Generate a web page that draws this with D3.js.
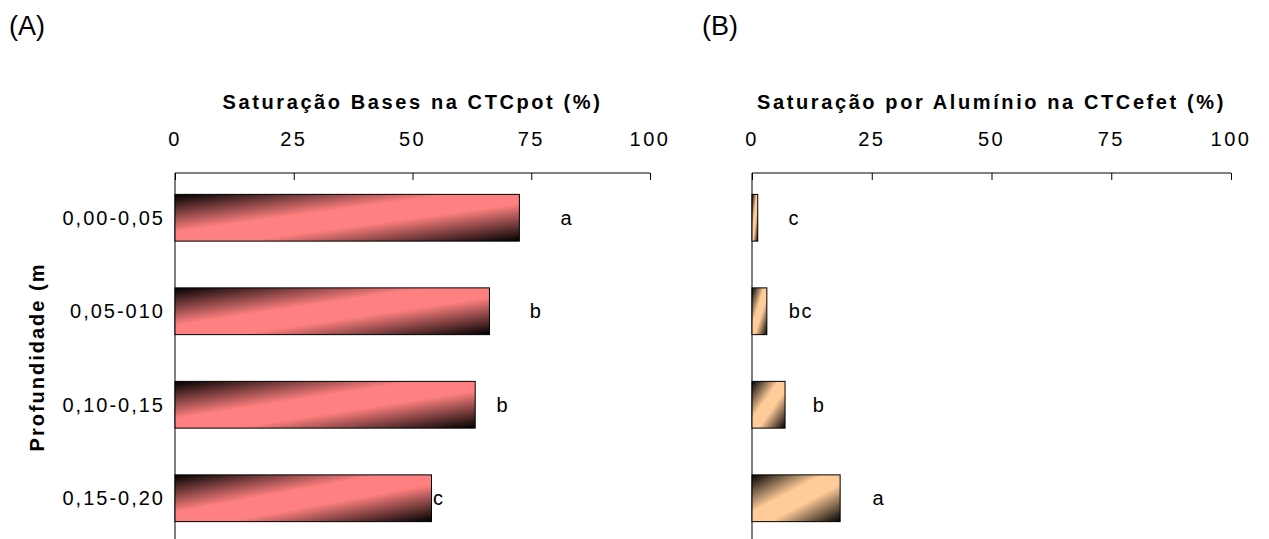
<!DOCTYPE html>
<html>
<head>
<meta charset="utf-8">
<script src="https://cdn.jsdelivr.net/npm/d3@7"></script>
<style>
  html, body { margin: 0; padding: 0; background: #fff; }
  svg { display: block; font-family: Arial, "Liberation Sans", sans-serif; }
</style>
</head>
<body>
<svg id="chart" width="1269" height="539"></svg>
<script>
// Soil depth layers (m)
const depths = ["0,00-0,05", "0,05-010", "0,10-0,15", "0,15-0,20"];

// (A) base saturation of potential CEC (%)
const baseSat = [72.5, 66.2, 63.2, 54.0];
const baseLetters = ["a", "b", "b", "c"];
const baseLetterAt = [82.5, 76, 69, 55.5];

// (B) aluminium saturation of effective CEC (%)
const alSat = [1.2, 3.1, 6.9, 18.4];
const alLetters = ["c", "bc", "b", "a"];
const alLetterAt = [8.8, 10.2, 14, 26.5];

const xTicks = [0, 25, 50, 75, 100];

const svg = d3.select("#chart");
const defs = svg.append("defs");

function makeGradient(id, color) {
  const g = defs.append("linearGradient")
    .attr("id", id)
    .attr("x1", 0).attr("y1", 0).attr("x2", 1).attr("y2", 1);
  g.append("stop").attr("offset", 0).attr("stop-color", "#000");
  g.append("stop").attr("offset", 0.4).attr("stop-color", color);
  g.append("stop").attr("offset", 0.6).attr("stop-color", color);
  g.append("stop").attr("offset", 1).attr("stop-color", "#000");
}
makeGradient("gradA", "#FF8080");
makeGradient("gradB", "#FFCC99");

const y = d3.scaleBand().domain(depths).range([171, 545]).paddingInner(0.5).paddingOuter(0.25);
const axisTop = 173;

function panel(opts) {
  const x = d3.scaleLinear().domain([0, 100]).range([opts.x0, opts.x1]);
  const g = svg.append("g");

  // title
  g.append("text")
    .attr("x", (opts.x0 + opts.x1) / 2).attr("y", 102)
    .attr("text-anchor", "middle").attr("dominant-baseline", "central")
    .attr("font-size", 20).attr("font-weight", "bold").attr("letter-spacing", 2.6)
    .text(opts.title);

  // tick labels
  g.selectAll(".tl").data(xTicks).join("text")
    .attr("x", d => x(d)).attr("y", 139)
    .attr("text-anchor", "middle").attr("dominant-baseline", "central")
    .attr("font-size", 20).attr("letter-spacing", 2.5)
    .text(d => d);

  // top axis line and inward ticks
  const ax = d3.axisTop(x).tickValues(xTicks).tickSize(-7).tickFormat("");
  const axG = g.append("g").attr("transform", `translate(0,${axisTop})`).call(ax);
  axG.select(".domain").attr("d", `M${opts.x0},0H${opts.x1}`).attr("stroke", "#000");
  axG.selectAll(".tick line").attr("stroke", "#000");

  // vertical axis
  g.append("line")
    .attr("x1", opts.x0).attr("x2", opts.x0)
    .attr("y1", axisTop).attr("y2", 539)
    .attr("stroke", "#000");

  // bars
  g.selectAll(".bar").data(opts.values).join("rect")
    .attr("x", x(0))
    .attr("y", (d, i) => y(depths[i]))
    .attr("width", d => x(d) - x(0))
    .attr("height", y.bandwidth())
    .attr("fill", `url(#${opts.grad})`)
    .attr("stroke", "#000").attr("stroke-width", 1);

  // significance letters
  g.selectAll(".lt").data(opts.letters).join("text")
    .attr("x", (d, i) => x(opts.letterAt[i]))
    .attr("y", (d, i) => y(depths[i]) + y.bandwidth() / 2)
    .attr("text-anchor", "middle").attr("dominant-baseline", "central")
    .attr("font-size", 20).attr("letter-spacing", 1.5)
    .text(d => d);

  // panel tag
  g.append("text")
    .attr("x", opts.tagX).attr("y", 26)
    .attr("dominant-baseline", "central")
    .attr("font-size", 27)
    .text(opts.tag);

  return x;
}

panel({ x0: 175, x1: 650, title: "Saturação Bases na CTCpot (%)", values: baseSat,
        letters: baseLetters, letterAt: baseLetterAt, grad: "gradA", tag: "(A)", tagX: 9 });
panel({ x0: 752, x1: 1231, title: "Saturação por Alumínio na CTCefet (%)", values: alSat,
        letters: alLetters, letterAt: alLetterAt, grad: "gradB", tag: "(B)", tagX: 702 });

// depth category labels
svg.selectAll(".cat").data(depths).join("text")
  .attr("x", 165).attr("y", d => y(d) + y.bandwidth() / 2)
  .attr("text-anchor", "end").attr("dominant-baseline", "central")
  .attr("font-size", 20).attr("letter-spacing", 2)
  .text(d => d);

// vertical axis title
svg.append("text")
  .attr("transform", "translate(37,357) rotate(-90)")
  .attr("text-anchor", "middle").attr("dominant-baseline", "central")
  .attr("font-size", 20).attr("font-weight", "bold").attr("letter-spacing", 2)
  .text("Profundidade (m");
</script>
</body>
</html>
